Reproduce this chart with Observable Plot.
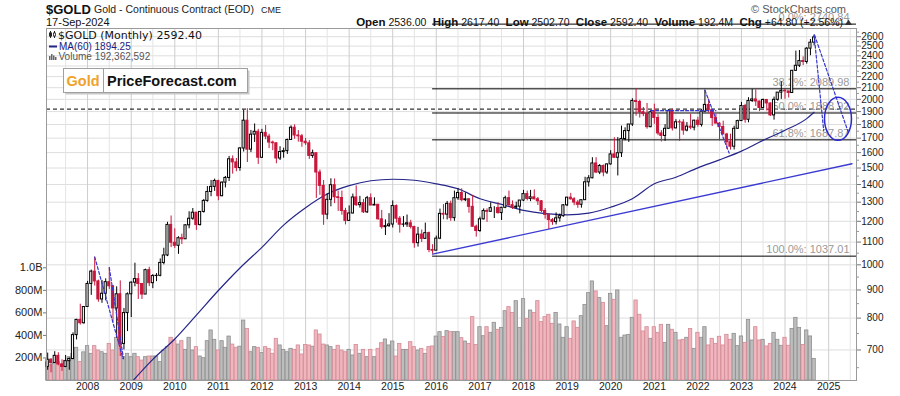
<!DOCTYPE html>
<html>
<head>
<meta charset="utf-8">
<script src="https://cdn.jsdelivr.net/npm/d3@7"></script>
<script src="https://cdn.jsdelivr.net/npm/@observablehq/plot@0.6"></script>
<style>
html,body{margin:0;padding:0;background:#fff;}
#chart{position:relative;width:900px;height:396px;overflow:hidden;background:#fff;}
#chart svg{position:absolute;left:0;top:0;}
</style>
</head>
<body>
<div id="chart"></div>
<script>
// ---------- DATA (monthly OHLC) ----------
const ohlc2007 = [[652,691,643,672],[672,675,636,663],[663,695,663,683],[683,692,655,659],[659,672,640,652],[652,684,650,668],[668,677,643,674],[674,752,672,745],[745,796,730,794],[794,848,777,783],[783,840,780,838]]; // Feb..Dec
const ohlc2008 = [[838,933,838,923],[923,978,880,972],[972,1033,915,933],[933,938,855,865],[865,937,851,886],[886,943,860,930],[930,988,902,914],[914,916,786,833],[833,912,735,884],[884,935,681,718],[718,833,700,817],[817,889,756,884]];
const ohlc2009 = [[884,931,802,928],[928,1007,912,942],[942,964,865,923],[923,924,865,883],[883,982,883,978],[978,990,913,926],[926,960,905,954],[954,964,932,955],[955,1025,951,1008],[1008,1072,1000,1040],[1040,1195,1035,1182],[1182,1227,1075,1097]];
const ohlc2010 = [[1097,1163,1071,1083],[1083,1125,1045,1118],[1118,1137,1089,1113],[1113,1183,1113,1180],[1180,1249,1163,1213],[1213,1266,1205,1244],[1244,1246,1155,1181],[1181,1248,1177,1248],[1248,1315,1242,1307],[1307,1388,1300,1357],[1357,1424,1330,1386],[1386,1432,1360,1421]];
const ohlc2011 = [[1421,1425,1308,1333],[1333,1415,1330,1411],[1411,1448,1380,1439],[1439,1575,1418,1556],[1556,1578,1462,1536],[1536,1561,1477,1500],[1500,1634,1480,1628],[1628,1912,1604,1829],[1829,1923,1535,1620],[1620,1756,1600,1725],[1725,1804,1670,1746],[1746,1764,1523,1566]];
const ohlc2012 = [[1566,1764,1562,1738],[1738,1792,1689,1711],[1711,1728,1627,1669],[1669,1679,1613,1664],[1664,1667,1527,1561],[1561,1640,1548,1604],[1604,1630,1563,1610],[1610,1693,1588,1687],[1687,1790,1687,1776],[1776,1798,1692,1719],[1719,1755,1672,1713],[1713,1727,1636,1675]];
const ohlc2013 = [[1675,1697,1649,1664],[1664,1683,1555,1578],[1578,1617,1562,1596],[1596,1597,1321,1472],[1472,1488,1338,1392],[1392,1424,1180,1234],[1234,1347,1208,1313],[1313,1434,1275,1396],[1396,1433,1292,1327],[1327,1362,1251,1323],[1323,1362,1231,1253],[1253,1267,1182,1202]];
const ohlc2014 = [[1202,1280,1202,1240],[1240,1345,1238,1326],[1326,1392,1277,1284],[1284,1332,1268,1295],[1295,1315,1240,1246],[1246,1332,1240,1322],[1322,1346,1281,1282],[1282,1324,1281,1286],[1286,1288,1206,1210],[1210,1256,1161,1171],[1171,1207,1131,1176],[1176,1239,1170,1184]];
const ohlc2015 = [[1184,1307,1167,1279],[1279,1285,1191,1213],[1213,1224,1142,1183],[1183,1224,1170,1184],[1184,1232,1170,1190],[1190,1205,1162,1172],[1172,1175,1072,1095],[1095,1170,1077,1135],[1135,1157,1098,1115],[1115,1191,1113,1142],[1142,1147,1052,1064],[1064,1088,1046,1061]];
const ohlc2016 = [[1061,1128,1061,1116],[1116,1263,1111,1238],[1238,1287,1208,1234],[1234,1304,1207,1291],[1291,1306,1200,1216],[1216,1362,1200,1322],[1322,1377,1310,1351],[1351,1375,1302,1311],[1311,1352,1303,1316],[1316,1317,1241,1275],[1275,1338,1171,1173],[1173,1181,1123,1152]];
const ohlc2017 = [[1152,1221,1146,1210],[1210,1264,1207,1253],[1253,1264,1195,1249],[1249,1297,1245,1268],[1268,1276,1214,1268],[1268,1297,1237,1242],[1242,1272,1204,1270],[1270,1333,1265,1322],[1322,1362,1277,1284],[1284,1307,1261,1271],[1271,1300,1264,1276],[1276,1309,1238,1309]];
const ohlc2018 = [[1309,1366,1303,1345],[1345,1362,1307,1318],[1318,1366,1303,1327],[1327,1369,1312,1316],[1316,1326,1282,1305],[1305,1309,1245,1253],[1253,1266,1211,1233],[1233,1236,1160,1206],[1206,1214,1180,1196],[1196,1243,1182,1215],[1215,1237,1196,1226],[1226,1287,1221,1283]];
const ohlc2019 = [[1283,1326,1276,1325],[1325,1349,1311,1316],[1316,1325,1281,1298],[1298,1310,1267,1286],[1286,1311,1268,1311],[1311,1443,1309,1413],[1413,1453,1385,1437],[1437,1566,1434,1529],[1529,1566,1465,1472],[1472,1522,1459,1513],[1513,1519,1446,1472],[1472,1525,1460,1523]];
const ohlc2020 = [[1523,1613,1518,1588],[1588,1703,1562,1566],[1566,1704,1451,1596],[1596,1788,1568,1694],[1694,1775,1681,1751],[1751,1800,1670,1800],[1800,2005,1785,1986],[1986,2089,1864,1978],[1978,1992,1849,1895],[1895,1933,1860,1880],[1880,1966,1765,1780],[1780,1907,1776,1895]];
const ohlc2021 = [[1895,1960,1802,1850],[1850,1876,1718,1734],[1734,1755,1673,1716],[1716,1799,1677,1768],[1768,1917,1766,1906],[1906,1920,1751,1771],[1771,1837,1768,1817],[1817,1834,1677,1815],[1815,1837,1721,1755],[1755,1815,1746,1784],[1784,1879,1761,1776],[1776,1833,1753,1829]];
const ohlc2022 = [[1829,1855,1780,1797],[1797,1918,1781,1900],[1900,2079,1891,1954],[1954,2003,1889,1911],[1911,1911,1785,1849],[1849,1880,1806,1807],[1807,1814,1681,1781],[1781,1825,1727,1726],[1726,1735,1622,1672],[1672,1729,1617,1640],[1640,1787,1618,1768],[1768,1833,1765,1826]];
const ohlc2023 = [[1826,1975,1824,1945],[1945,1959,1810,1836],[1836,2014,1813,1986],[1986,2085,1974,1999],[1999,2081,1941,1982],[1982,1985,1900,1929],[1929,2002,1925,1995],[1995,1996,1904,1966],[1966,1968,1862,1870],[1870,2019,1833,1996],[1996,2058,1984,2057],[2057,2152,2000,2072]];
const ohlc2024 = [[2072,2088,2001,2068],[2068,2064,2011,2054],[2054,2256,2049,2254],[2254,2448,2249,2302],[2302,2454,2286,2348],[2348,2389,2304,2339],[2339,2484,2318,2473],[2473,2570,2401,2536],[2536,2617.4,2502.7,2592.4]];

// monthly volume, millions
const vol2007 = [160,135,150,165,140,175,207,237,290,163,250];
const vol2008 = [305,237,305,266,251,237,325,266,379,325,207,237];
const vol2009 = [207,237,207,177,207,213,213,213,163,266,296,379];
const vol2010 = [355,319,349,272,379,266,296,213,198,349,444,361];
const vol2011 = [266,349,290,390,319,290,300,532,458,251,296,290];
const vol2012 = [243,296,281,237,370,311,272,251,281,272,311,231];
const vol2013 = [316,311,300,444,408,319,311,296,272,308,266,251];
const vol2014 = [272,222,316,237,272,207,272,207,281,331,364,311];
const vol2015 = [346,213,325,272,272,340,296,266,281,237,296,302];
const vol2016 = [390,429,385,438,429,429,429,376,346,325,562,316];
const vol2017 = [473,393,473,423,512,450,467,615,651,600,704,467];
const vol2018 = [722,547,621,600,704,518,562,583,503,600,497,379];
const vol2019 = [473,370,524,467,571,671,775,879,790,731,689,482];
const vol2020 = [769,716,799,379,399,405,556,710,583,435,473,370];
const vol2021 = [473,423,494,334,494,450,423,355,361,379,458,281];
const vol2022 = [423,379,473,311,370,325,388,311,405,361,414,305];
const vol2023 = [391,334,538,355,473,355,361,302,325,423,361,308];
const vol2024 = [379,308,458,556,467,316,444,391,192];

// MA(60)
const maDates  = ["2008-12-01","2009-07-01","2010-01-01","2010-07-01","2011-01-01","2011-07-01","2012-01-01","2012-07-01","2013-01-01","2013-07-01","2014-01-01","2014-07-01","2015-01-01","2015-07-01","2016-01-01","2016-07-01","2017-01-01","2017-07-01","2018-01-01","2018-07-01","2019-01-01","2019-07-01","2020-01-01","2020-07-01","2021-01-01","2021-07-01","2022-01-01","2022-07-01","2023-01-01","2023-07-01","2024-01-01","2024-07-01","2024-09-01"];
const maValues = [600,673,733,810,898,987,1076,1181,1270,1345,1393,1422,1431,1425,1404,1375,1319,1288,1256,1239,1233,1242,1273,1319,1404,1443,1501,1552,1610,1684,1757,1845,1894.25];

// Fibonacci retracement
const fibLevels = [2740.84, 2089.98, 1888.92, 1687.87, 1037.01];
const fibLabels = ["0.0%: 2740.84", "38.2%: 2089.98", "50.0%: 1888.92", "61.8%: 1687.87", "100.0%: 1037.01"];
const fibStart = "2015-12-01";
const resistance2011 = 1920;

// blue annotations
const trendLine = [["2015-12-01", 1046], ["2025-07-15", 1527]];
const dashedSegments = [
  ["a", "2008-03-01", 1033, "2008-10-24", 675],
  ["b", "2008-07-01", 988, "2008-10-28", 675],
  ["c", "2020-12-01", 1907, "2022-06-01", 1907],
  ["d", "2022-03-01", 2077, "2022-09-20", 1597],
  ["e", "2024-09-01", 2617, "2024-11-20", 1756],
  ["f", "2024-09-05", 2617, "2025-06-15", 1740]
];
const ellipseCenter = ["2025-03-20", 1843];

// axes
const priceTicks = [700,800,900,1000,1100,1200,1300,1400,1500,1600,1700,1800,1900,2000,2100,2200,2300,2400,2500,2600];
const priceMinor = [650,750,850,950,1050,1150,1250,1350,1450,1550,1650,1750,1850,1950,2050,2150,2250,2350,2450,2550,2650];
const volTicks = [200e6, 400e6, 600e6, 800e6, 1e9];
const volTickLabels = ["200M", "400M", "600M", "800M", "1.0B"];
const yearTicks = [2008,2009,2010,2011,2012,2013,2014,2015,2016,2017,2018,2019,2020,2021,2022,2023,2024,2025];

// header texts
const headerStats = [["Open","2536.00"],["High","2617.40"],["Low","2502.70"],["Close","2592.40"],["Volume","192.4M"],["Chg","+64.80 (+2.56%)"]];

// ---------- TABLES ----------
const years = {2007:[ohlc2007,vol2007],2008:[ohlc2008,vol2008],2009:[ohlc2009,vol2009],2010:[ohlc2010,vol2010],2011:[ohlc2011,vol2011],2012:[ohlc2012,vol2012],2013:[ohlc2013,vol2013],2014:[ohlc2014,vol2014],2015:[ohlc2015,vol2015],2016:[ohlc2016,vol2016],2017:[ohlc2017,vol2017],2018:[ohlc2018,vol2018],2019:[ohlc2019,vol2019],2020:[ohlc2020,vol2020],2021:[ohlc2021,vol2021],2022:[ohlc2022,vol2022],2023:[ohlc2023,vol2023],2024:[ohlc2024,vol2024]};
const rows = [];
for (const [yr, [o, v]] of Object.entries(years)) {
  const first = (+yr === 2007) ? 1 : 0;
  o.forEach((c, k) => rows.push({date: new Date(Date.UTC(+yr, first + k, 1)), open: c[0], high: c[1], low: c[2], close: c[3], vol: v[k] * 1e6}));
}
const ups = rows.filter(d => d.close >= d.open);
const downs = rows.filter(d => d.close < d.open);
const ma = maDates.map((d, i) => ({date: new Date(d), v: maValues[i]}));
const fib = fibLevels.map((l, i) => ({level: l, label: fibLabels[i]}));
const segs = dashedSegments.flatMap(([id, d1, p1, d2, p2]) => [{id, date: new Date(d1), p: p1}, {id, date: new Date(d2), p: p2}]);
const trend = trendLine.map(([d, p]) => ({date: new Date(d), p}));

// ---------- SCALES ----------
const W = 900, H = 396;
const margins = {marginTop: 28, marginBottom: 16, marginLeft: 46, marginRight: 44};
const xDomain = [new Date("2007-01-22"), new Date("2025-08-22")];
const font = "Liberation Sans, Arial, sans-serif";
const base = {
  width: W, height: H, ...margins,
  x: {type: "utc", domain: xDomain, axis: null, label: null},
  style: {background: "transparent", fontFamily: font, fontSize: "10px", overflow: "visible"}
};
const yPrice = {type: "log", domain: [616, 2691], axis: null, label: null};
const off = (d, n) => d3.utcDay.offset(d, n);

const chart = document.getElementById("chart");

// layer 1: grid
const halfYears = d3.utcMonth.every(6).range(new Date("2007-07-01"), xDomain[1]);
chart.appendChild(Plot.plot({
  ...base, y: yPrice,
  marks: [
    Plot.ruleY(priceTicks, {stroke: "#dedede"}),
    Plot.ruleX(halfYears.filter(d => d.getUTCMonth() === 6), {stroke: "#e4e4e4"}),
    Plot.ruleX(halfYears.filter(d => d.getUTCMonth() === 0), {stroke: "#cdcdcd"})
  ]
}));

// layer 2: volume
chart.appendChild(Plot.plot({
  ...base,
  y: {type: "linear", domain: [0, 3.123e9], axis: null, label: null},
  marks: [
    Plot.rect(ups, {x1: d => off(d.date, -14), x2: d => off(d.date, 14), y1: 0, y2: "vol", fill: "#bdbdbd", stroke: "#8e8e8e", strokeWidth: 0.8}),
    Plot.rect(downs, {x1: d => off(d.date, -14), x2: d => off(d.date, 14), y1: 0, y2: "vol", fill: "#f0b6be", stroke: "#d48a96", strokeWidth: 0.8}),
    Plot.axisY(volTicks, {anchor: "left", tickSize: 3, tickFormat: () => "", stroke: "#777", label: null}),
    Plot.text(volTicks, {y: d => d, text: (d, i) => volTickLabels[i], frameAnchor: "left", dx: -4, textAnchor: "end", fontSize: 11, fill: "#222"})
  ]
}));

// layer 3: price
const ellipseSymbol = {draw(ctx) {
  const rx = 13.5, ry = 21.5, k = 0.5523;
  ctx.moveTo(rx, 0);
  ctx.bezierCurveTo(rx, ry * k, rx * k, ry, 0, ry);
  ctx.bezierCurveTo(-rx * k, ry, -rx, ry * k, -rx, 0);
  ctx.bezierCurveTo(-rx, -ry * k, -rx * k, -ry, 0, -ry);
  ctx.bezierCurveTo(rx * k, -ry, rx, -ry * k, rx, 0);
  ctx.closePath();
}};
const RED = "#c8173c";
chart.appendChild(Plot.plot({
  ...base, y: yPrice,
  marks: [
    Plot.ruleY([resistance2011], {stroke: "#000", strokeDasharray: "4,3"}),
    Plot.ruleY(fib, {y: "level", x1: new Date(fibStart), x2: xDomain[1], stroke: "#000"}),
    Plot.text(fib, {y: "level", text: "label", frameAnchor: "right", dx: -7, dy: -3, textAnchor: "end", lineAnchor: "bottom", fill: "#9a9a9a", fontSize: 11}),
    Plot.line(ma, {x: "date", y: "v", stroke: "#25258a", strokeWidth: 1.2, curve: "monotone-x", clip: true}),
    Plot.line(trend, {x: "date", y: "p", stroke: "#3b3bd2", strokeWidth: 1.4}),
    Plot.ruleX(ups, {x: "date", y1: "low", y2: "high", stroke: "#000"}),
    Plot.ruleX(downs, {x: "date", y1: "low", y2: "high", stroke: RED}),
    Plot.rect(ups, {x1: d => off(d.date, -9), x2: d => off(d.date, 9), y1: "open", y2: "close", fill: "#fff", stroke: "#000"}),
    Plot.rect(downs, {x1: d => off(d.date, -9), x2: d => off(d.date, 9), y1: "open", y2: "close", fill: RED, stroke: RED}),
    Plot.line(segs, {x: "date", y: "p", z: "id", stroke: "#3535d0", strokeWidth: 1.2, strokeDasharray: "3,2"}),
    Plot.dot([ellipseCenter], {x: d => new Date(d[0]), y: d => d[1], symbol: ellipseSymbol, r: 10, stroke: "#2a2ad0", fill: "none", strokeWidth: 1.5}),
    Plot.frame({stroke: "#9a9a9a"}),
    Plot.axisY(priceTicks, {anchor: "right", tickSize: 4, tickFormat: () => "", stroke: "#777", label: null}),
    Plot.axisY(priceMinor, {anchor: "right", tickSize: 2, tickFormat: () => "", stroke: "#999", label: null}),
    Plot.text(priceTicks, {y: d => d, text: d => String(d), frameAnchor: "right", dx: 27, textAnchor: "end", fontSize: 10, fill: "#222"}),
    Plot.text(yearTicks, {x: d => new Date(Date.UTC(d, 0, 1)), text: d => String(d), frameAnchor: "bottom", dy: 9, fontSize: 10.5, fill: "#222"})
  ]
}));

// layer 4: header, legend, watermark
const svg = d3.select(chart).append("svg").attr("width", W).attr("height", H).attr("font-family", font);
svg.append("text").attr("x", 46).attr("y", 13.5).attr("font-size", 13).attr("font-weight", "bold").attr("fill", "#111").text("$GOLD");
svg.append("text").attr("x", 94).attr("y", 13).attr("font-size", 10.5).attr("fill", "#222").text("Gold - Continuous Contract (EOD)");
svg.append("text").attr("x", 261).attr("y", 13).attr("font-size", 9).attr("fill", "#222").text("CME");
svg.append("text").attr("x", 46).attr("y", 25.5).attr("font-size", 11).attr("fill", "#111").text("17-Sep-2024");
const hs = svg.append("text").attr("x", 843).attr("y", 25.5).attr("text-anchor", "end").attr("fill", "#111").style("white-space", "pre");
headerStats.forEach(([k, v], i) => {
  hs.append("tspan").attr("font-weight", "bold").attr("font-size", 11.5).text((i ? "  " : "") + k);
  hs.append("tspan").attr("font-size", 10.5).text(" " + v);
});
svg.append("path").attr("d", "M845,25 L848.5,19.5 L852,25 Z").attr("fill", "#333");
svg.append("text").attr("x", 846).attr("y", 12.5).attr("text-anchor", "end").attr("font-size", 11).attr("fill", "#555").text("\u00a9 StockCharts.com");

// legend
const lg = svg.append("g");
lg.append("line").attr("x1", 50.5).attr("x2", 50.5).attr("y1", 31).attr("y2", 38).attr("stroke", "#222");
lg.append("rect").attr("x", 49).attr("y", 32.5).attr("width", 3).attr("height", 4).attr("fill", "#222");
lg.append("line").attr("x1", 54.5).attr("x2", 54.5).attr("y1", 31).attr("y2", 38).attr("stroke", "#222");
lg.append("rect").attr("x", 53.5).attr("y", 33).attr("width", 2).attr("height", 3).attr("fill", "#fff").attr("stroke", "#222").attr("stroke-width", 0.8);
lg.append("text").attr("x", 58).attr("y", 38.5).attr("font-family", "DejaVu Sans, sans-serif").attr("font-size", 11).attr("fill", "#111").text("$GOLD (Monthly) 2592.40");
lg.append("line").attr("x1", 49).attr("x2", 57).attr("y1", 46.5).attr("y2", 46.5).attr("stroke", "#25258a").attr("stroke-width", 2);
lg.append("text").attr("x", 59).attr("y", 50).attr("font-size", 10).attr("fill", "#1c1c80").text("MA(60) 1894.25");
[[49,56],[51,54],[53,55.5],[55,57]].forEach(([x, y]) => lg.append("rect").attr("x", x).attr("y", y).attr("width", 1.5).attr("height", 60 - y).attr("fill", "#666"));
lg.append("text").attr("x", 58.5).attr("y", 59.5).attr("font-size", 10).attr("fill", "#555").text("Volume 192,362,592");

// watermark box
const wm = svg.append("g");
wm.append("rect").attr("x", 65.5).attr("y", 70.5).attr("width", 184).attr("height", 24).attr("fill", "#c8c8c8");
wm.append("rect").attr("x", 63.5).attr("y", 68.5).attr("width", 184).attr("height", 24).attr("fill", "#fff").attr("stroke", "#a0a0a0");
wm.append("line").attr("x1", 103.5).attr("x2", 103.5).attr("y1", 68.5).attr("y2", 92.5).attr("stroke", "#a0a0a0");
wm.append("text").attr("x", 66.5).attr("y", 86).attr("font-size", 14.5).attr("font-weight", "bold").attr("fill", "#f0a22a").text("Gold");
wm.append("text").attr("x", 107).attr("y", 86).attr("font-size", 14.5).attr("font-weight", "bold").attr("fill", "#111").text("PriceForecast.com");
</script>
</body>
</html>
